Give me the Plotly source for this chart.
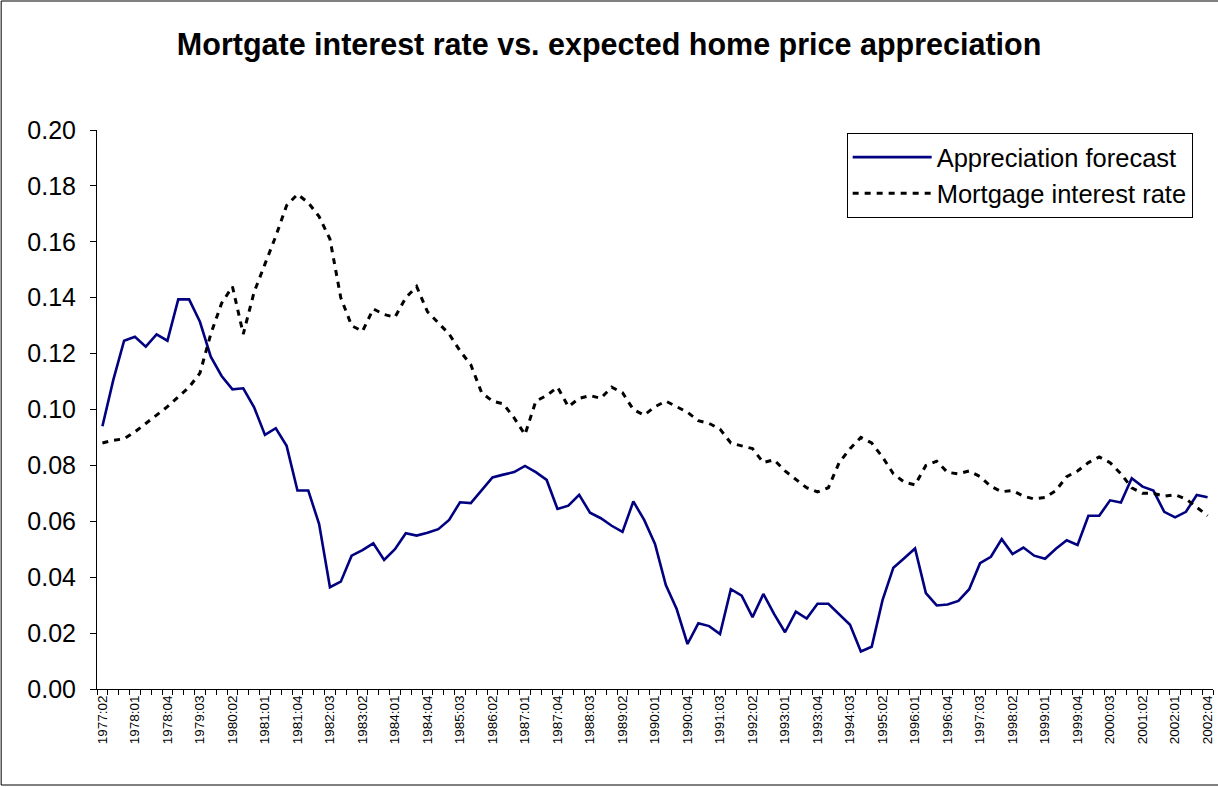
import plotly.graph_objects as go

# Quarterly categories 1977:02 .. 2002:04
quarters = []
for yr in range(1977, 2003):
    for q in range(1, 5):
        if yr == 1977 and q < 2:
            continue
        quarters.append(f"{yr}:{q:02d}")

appreciation_forecast = [
    0.094, 0.1105, 0.1246, 0.126, 0.1225, 0.1269, 0.1246, 0.1394, 0.1394, 0.1314,
    0.1189, 0.112, 0.1072, 0.1076, 0.1008, 0.0909, 0.0933, 0.087, 0.071, 0.071,
    0.059, 0.0364, 0.0384, 0.0477, 0.0497, 0.0521, 0.0462, 0.050, 0.0557, 0.0549,
    0.0559, 0.0572, 0.0605, 0.0668, 0.0665, 0.0712, 0.0757, 0.0767, 0.0776, 0.0798,
    0.0776, 0.0748, 0.0644, 0.0656, 0.0695, 0.0631, 0.0611, 0.0584, 0.0562, 0.0671,
    0.0605, 0.0519, 0.0372, 0.0286, 0.0161, 0.0235, 0.0225, 0.0197, 0.0357, 0.0334,
    0.0257, 0.034, 0.0268, 0.0203, 0.0277, 0.0252, 0.0305, 0.0305, 0.0268, 0.023,
    0.0134, 0.0151, 0.0318, 0.0434, 0.0468, 0.0503, 0.0343, 0.0299, 0.0302, 0.0315,
    0.0357, 0.045, 0.0473, 0.0536, 0.0483, 0.0506, 0.0477, 0.0466, 0.0502, 0.0532,
    0.0515, 0.062, 0.062, 0.0675, 0.0667, 0.0754, 0.0724, 0.071, 0.0634, 0.0614,
    0.0634, 0.0694, 0.0686,
]

mortgage_rate = [
    0.088, 0.089, 0.0895, 0.092, 0.095, 0.098, 0.101, 0.1045, 0.108, 0.113,
    0.127, 0.138, 0.144, 0.127, 0.142, 0.152, 0.162, 0.173, 0.177, 0.174,
    0.169, 0.161, 0.140, 0.130, 0.128, 0.136, 0.134, 0.133, 0.140, 0.144,
    0.135, 0.131, 0.127, 0.121, 0.116, 0.106, 0.103, 0.102, 0.097, 0.091,
    0.103, 0.105, 0.108, 0.101, 0.104, 0.105, 0.104, 0.108, 0.106, 0.100,
    0.098, 0.101, 0.103, 0.101, 0.099, 0.096, 0.095, 0.093, 0.088, 0.087,
    0.086, 0.081, 0.082, 0.078, 0.075, 0.072, 0.0705, 0.072, 0.081, 0.086,
    0.090, 0.088, 0.083, 0.077, 0.074, 0.073, 0.080, 0.0815, 0.0775, 0.077,
    0.078, 0.076, 0.0725, 0.0706, 0.071, 0.069, 0.068, 0.0685, 0.071, 0.076,
    0.078, 0.081, 0.083, 0.081, 0.077, 0.072, 0.070, 0.070, 0.069, 0.0695,
    0.068, 0.065, 0.062,
]

y_ticks = [0.00, 0.02, 0.04, 0.06, 0.08, 0.10, 0.12, 0.14, 0.16, 0.18, 0.20]

idx = list(range(len(quarters)))
label_idx = idx[::3]
label_text = [quarters[i] for i in label_idx]

FONT = "Liberation Sans, Arial, sans-serif"

fig = go.Figure()
fig.add_trace(go.Scatter(
    x=idx, y=appreciation_forecast, mode="lines", name="Appreciation forecast",
    line=dict(color="#000080", width=2.6),
))
fig.add_trace(go.Scatter(
    x=idx, y=mortgage_rate, mode="lines", name="Mortgage interest rate",
    line=dict(color="#000000", width=3, dash="6px,6px"),
))

W, H = 1218, 787
L, R, T, B = 97, 3, 130, 98
pw, ph = W - L - R, H - T - B

fig.update_layout(
    width=W, height=H,
    margin=dict(l=L, r=R, t=T, b=B),
    paper_bgcolor="white", plot_bgcolor="white",
    font=dict(family=FONT, color="black"),
    title=dict(
        text="<b>Mortgate interest rate vs. expected home price appreciation</b>",
        x=(610 - L) / pw, xref="paper", xanchor="center",
        y=1 - 44 / H, yref="container", yanchor="middle",
        font=dict(size=30.5, family=FONT, color="black"),
    ),
    xaxis=dict(
        range=[-0.5, len(quarters) - 0.5],
        tickmode="array", tickvals=label_idx, ticktext=label_text,
        tickangle=-90, tickfont=dict(size=13.5),
        ticks="", showgrid=False, zeroline=False,
        showline=True, linecolor="black", linewidth=1,
        minor=dict(tickmode="array", tickvals=[i - 0.5 for i in range(len(quarters) + 1)],
                   ticks="outside", ticklen=5, tickcolor="black", tickwidth=1, showgrid=False),
    ),
    yaxis=dict(
        range=[0, 0.2], tickmode="array", tickvals=y_ticks, tickformat=".2f",
        ticks="outside", ticklen=6, tickcolor="black", tickwidth=1,
        tickfont=dict(size=25), ticklabelstandoff=9,
        showgrid=False, zeroline=False,
        showline=True, linecolor="black", linewidth=1,
    ),
    legend=dict(
        x=(848 - L) / pw, y=(689 - 133) / ph, xanchor="left", yanchor="top",
        bordercolor="black", borderwidth=1, bgcolor="white",
        font=dict(size=25.5, family=FONT), itemwidth=79, tracegroupgap=0,
        entrywidth=274, entrywidthmode="pixels",
    ),
    shapes=[dict(
        type="rect", xref="paper", yref="paper",
        x0=(1 - L) / pw, x1=(1222 - L) / pw,
        y0=(H - B - 785) / ph, y1=(H - B - 1) / ph,
        line=dict(color="black", width=1), fillcolor="rgba(0,0,0,0)", layer="below",
    )],
)

fig.write_html("out.html", config={"displayModeBar": False},
               post_script="document.body.style.margin='0px';")
